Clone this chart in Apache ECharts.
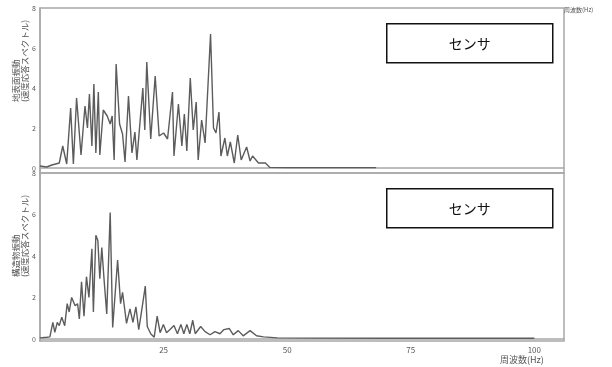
<!DOCTYPE html>
<html>
<head>
<meta charset="utf-8">
<script src="https://cdn.jsdelivr.net/npm/echarts@6/dist/echarts.min.js"></script>
<style>
  html, body { margin: 0; padding: 0; background: #fff; }
  #chart { width: 612px; height: 367px; }
</style>
</head>
<body>
<div id="chart"></div>
<script>
// top panel: ground vibration spectrum
const topHz = [0, 1.35, 2.4, 3.9, 4.6, 5.4, 6.2, 6.75, 7.4, 8.3, 9.1, 9.6, 10.0, 10.5, 10.9, 11.3, 11.8, 12.1, 12.8, 13.6,
  14.2, 14.6, 15.0, 15.4, 16.1, 16.7, 17.2, 17.9, 18.6, 19.2, 19.6, 20.8, 21.2, 21.6, 22.4, 23.3, 24.1, 25.0, 25.8, 26.8,
  27.1, 28.0, 28.7, 29.2, 29.7, 30.4, 31.0, 31.6, 32.0, 32.7, 33.4, 34.5, 35.1, 35.6, 36.2, 36.6, 37.4, 37.9, 38.5, 39.3,
  40.0, 40.7, 41.8, 42.5, 43.0, 44.2, 45.6, 46.5, 50, 60, 68];
const topAmp = [0.1, 0.05, 0.15, 0.25, 1.1, 0.2, 3.0, 0.2, 3.5, 0.65, 3.1, 2.0, 3.7, 1.1, 4.2, 0.75, 3.8, 0.65, 2.9, 2.6,
  2.2, 2.6, 0.4, 5.2, 2.2, 1.7, 0.3, 3.6, 0.75, 1.8, 0.4, 4.0, 1.9, 5.3, 1.45, 4.6, 1.6, 1.75, 1.45, 3.8,
  0.6, 3.2, 1.1, 2.7, 0.85, 4.5, 1.9, 3.3, 0.4, 2.4, 1.25, 6.7, 2.0, 1.75, 2.8, 0.6, 1.5, 0.6, 1.3, 0.25,
  1.65, 0.4, 1.05, 0.35, 0.6, 0.25, 0.25, 0.03, 0.02, 0.02, 0.02];

// bottom panel: structure vibration spectrum
const botHz = [0, 1.35, 2.0, 2.6, 3.0, 3.5, 3.9, 4.4, 5.0, 5.5, 5.9, 6.4, 7.1, 7.6, 7.96, 8.4, 8.9, 9.4, 9.9, 10.5,
  10.8, 11.3, 11.7, 12.1, 12.5, 12.95, 13.5, 14.2, 14.7, 15.7, 16.3, 16.7, 17.5, 18.2, 18.8, 19.4, 19.97, 20.4, 21.3, 21.7,
  22.4, 23.1, 23.7, 24.3, 24.96, 25.6, 26.3, 27.1, 27.8, 28.5, 29.1, 29.7, 30.3, 30.9, 31.4, 32.5, 33.4, 34.4, 35.4, 36.4,
  37.2, 38.3, 39.1, 40.1, 41.1, 42.5, 43.8, 45.2, 48, 55, 70, 85, 100];
const botAmp = [0.05, 0.08, 0.1, 0.8, 0.32, 0.8, 0.64, 1.05, 0.64, 1.7, 1.3, 2.0, 1.6, 1.7, 0.96, 2.75, 1.1, 3.0, 2.0, 4.35,
  1.3, 5.0, 4.75, 2.9, 4.4, 2.9, 1.2, 6.1, 0.55, 3.8, 1.7, 2.25, 0.75, 1.45, 0.8, 1.55, 0.45, 1.1, 2.55, 0.6,
  0.25, 0.08, 1.1, 0.3, 0.7, 0.3, 0.45, 0.65, 0.25, 0.7, 0.25, 0.7, 0.25, 0.9, 0.25, 0.6, 0.35, 0.2, 0.35, 0.25,
  0.45, 0.5, 0.2, 0.4, 0.15, 0.4, 0.15, 0.1, 0.05, 0.04, 0.03, 0.03, 0.03];

const xTicks = [25, 50, 75, 100];
const yTicks = [0, 2, 4, 6, 8];
const sensorLabel = "センサ";
const xName = "周波数(Hz)";
const topYName = "地表面振動\n(速度応答スペクトル)";
const botYName = "構造物振動\n(速度応答スペクトル)";

const font = '"Noto Sans CJK JP", "Noto Sans", sans-serif';
const axisGray = "#a8a8a8";
const textGray = "#5a5a5a";

const chart = echarts.init(document.getElementById("chart"));

const xAxisBase = (gridIndex, showLabels) => ({
  type: "value",
  gridIndex: gridIndex,
  min: 0,
  max: 106,
  axisLine: { show: true, lineStyle: { color: axisGray, width: 1.5 } },
  axisTick: { show: false },
  splitLine: { show: false },
  axisLabel: {
    show: showLabels,
    customValues: xTicks,
    color: textGray,
    fontSize: 8,
    fontFamily: font,
    margin: 5,
  },
});

const yAxisBase = (gridIndex, min) => ({
  type: "value",
  gridIndex: gridIndex,
  min: min,
  max: 8,
  axisLine: { show: true, lineStyle: { color: axisGray, width: 1.5 } },
  axisTick: { show: false },
  splitLine: { show: false },
  axisLabel: {
    customValues: yTicks,
    color: textGray,
    fontSize: 7,
    fontFamily: font,
    margin: 4,
  },
});

const lineSeries = (idx, hz, amp) => ({
  type: "line",
  xAxisIndex: idx,
  yAxisIndex: idx,
  data: hz.map((f, i) => [f, amp[i]]),
  showSymbol: false,
  smooth: false,
  lineStyle: { color: "#5c5c5c", width: 1.4 },
  silent: true,
});

const sensorBox = (top) => ({
  type: "group",
  left: 386,
  top: top,
  children: [
    {
      type: "rect",
      shape: { x: 0, y: 0, width: 166, height: 39 },
      style: { fill: "#fff", stroke: "#111", lineWidth: 1.5 },
    },
    {
      type: "text",
      x: 83,
      y: 20,
      style: {
        text: sensorLabel,
        align: "center",
        verticalAlign: "middle",
        fontSize: 14,
        fontFamily: font,
        fill: "#111",
      },
    },
  ],
});

const yNameText = (x, y, text) => ({
  type: "text",
  x: x,
  y: y,
  rotation: Math.PI / 2,
  style: {
    text: text,
    align: "left",
    verticalAlign: "top",
    fontSize: 8.5,
    lineHeight: 9,
    fontFamily: font,
    fill: "#555",
  },
});

chart.setOption({
  backgroundColor: "#fff",
  animation: false,
  grid: [
    { left: 40, right: 48, top: 8, height: 165, show: true, borderColor: axisGray, borderWidth: 1.5 },
    { left: 40, right: 48, top: 173, height: 168, show: true, borderColor: axisGray, borderWidth: 1.5 },
  ],
  xAxis: [xAxisBase(0, false), xAxisBase(1, true)],
  yAxis: [yAxisBase(0, -0.25), yAxisBase(1, -0.1)],
  series: [lineSeries(0, topHz, topAmp), lineSeries(1, botHz, botAmp)],
  graphic: [
    sensorBox(23),
    sensorBox(188),
    yNameText(11, 102, topYName),
    yNameText(11, 277, botYName),
    {
      type: "text",
      left: 500,
      top: 355,
      style: { text: xName, fontSize: 9, fontFamily: font, fill: "#555" },
    },
    {
      type: "text",
      left: 564,
      top: 7,
      style: { text: xName, fontSize: 6, fontFamily: font, fill: "#555" },
    },
  ],
});
</script>
</body>
</html>
